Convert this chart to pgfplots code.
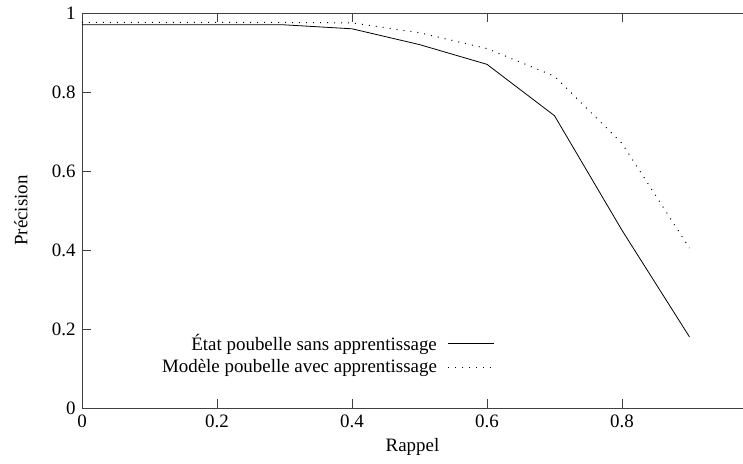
\documentclass[border=0pt]{standalone}
\usepackage{fontspec}
\setmainfont{Liberation Serif}
\usepackage{pgfplots}
\pgfplotsset{compat=1.18}
\usetikzlibrary{calc}

\begin{document}
\fontsize{19}{22}\selectfont
\begin{tikzpicture}
\begin{axis}[
    name=ax,
    scale only axis,
    width=661bp, height=395bp,
    xmin=0, xmax=0.9793,
    ymin=0, ymax=1,
    xtick={0,0.2,0.4,0.6,0.8},
    ytick={0,0.2,0.4,0.6,0.8,1},
    xticklabels={0,0.2,0.4,0.6,0.8},
    yticklabels={0,0.2,0.4,0.6,0.8,1},
    tick align=inside,
    major tick length=9bp,
    ytick pos=left,
    xtick pos=both,
    axis line style={line width=0.8bp, black!75},
    every tick/.style={line width=0.8bp, black!75},
    xlabel={Rappel},
    ylabel={Précision},
    every axis x label/.style={at={(axis description cs:0.5,-0.0987)}, anchor=center},
    every axis y label/.style={at={(axis description cs:-0.0923,0.5)}, rotate=90, anchor=center},
    legend plot pos=right,
    legend cell align=right,
    legend style={draw=none, fill=none, inner sep=0pt, column sep=9bp,
        at={(axis cs:0.612,0.193)}, anchor=north east, row sep=2bp},
    legend image code/.code={\draw[#1] (0bp,0bp) -- (46bp,0bp);},
]
\addplot[black, line width=0.8bp] coordinates {
    (0,0.97) (0.1,0.97) (0.2,0.97) (0.3,0.97) (0.4,0.96)
    (0.5,0.92) (0.6,0.87) (0.7,0.74) (0.8,0.45) (0.9,0.18)
};
\addlegendentry{État poubelle sans apprentissage}
\addplot[black, line width=1bp, dash pattern=on 1bp off 6bp] coordinates {
    (0,0.976) (0.1,0.976) (0.2,0.976) (0.3,0.976) (0.4,0.975)
    (0.5,0.95) (0.6,0.91) (0.7,0.84) (0.8,0.67) (0.9,0.405)
};
\addlegendentry{Modèle poubelle avec apprentissage}
\end{axis}
\pgfresetboundingbox
\useasboundingbox ($(ax.south west)+(-82bp,-56bp)$) rectangle ($(ax.north east)+(0bp,13bp)$);
\end{tikzpicture}
\end{document}
